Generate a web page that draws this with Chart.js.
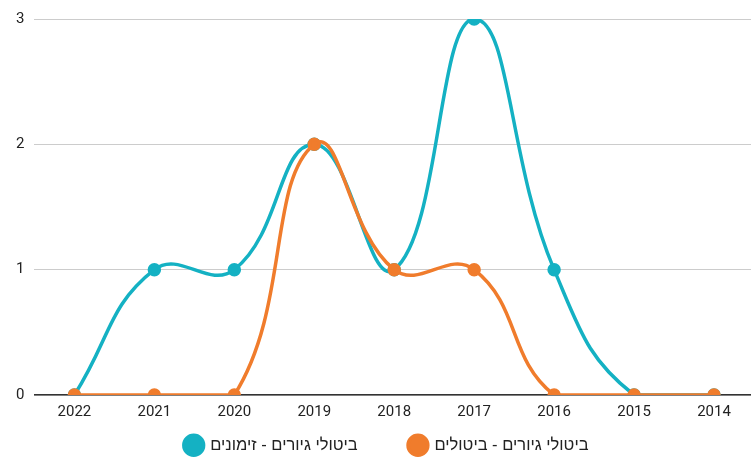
<!DOCTYPE html>
<html>
<head>
<meta charset="utf-8">
<script src="https://cdn.jsdelivr.net/npm/chart.js@4/dist/chart.umd.min.js"></script>
<style>
html,body{margin:0;padding:0;background:#fff;overflow:hidden;}
#wrap{position:relative;width:768px;height:457px;}
</style>
</head>
<body>
<div id="wrap"><canvas id="c"></canvas></div>
<script>
'use strict';
const years = ['2022','2021','2020','2019','2018','2017','2016','2015','2014'];
const cancelLabel = 'ביטולי גיורים - ביטולים';
const cancelVals = [0,0,0,2,1,1,0,0,0];
const summonLabel = 'ביטולי גיורים - זימונים';
const summonVals = [0,1,1,2,1,3,1,0,0];
const yTicks = [0,1,2,3];

const TEAL = '#14b1c3', ORANGE = '#f07c2c';
const LEG_PAD = 52;      // horizontal gap between legend items
const LEG_H = 28;        // room the legend takes under the axis
const LEG_ITEM_OFF = 8;  // item top below legend box top
const LEG_SHIFT_X = 7;

// legend: wide gap between items but short box
const legendTweak = {
    id:'legendTweak',
    afterInit(chart){
        const lg = chart.legend;
        const fit = lg.fit;
        lg.fit = function(){ fit.call(this); this.height = LEG_H; };
        const draw = lg.draw;
        lg.draw = function(){
            const s = LEG_PAD - LEG_ITEM_OFF;
            this.top -= s; this.left += LEG_SHIFT_X; this.right += LEG_SHIFT_X;
            draw.call(this);
            this.top += s; this.left -= LEG_SHIFT_X; this.right -= LEG_SHIFT_X;
        };
    }
};

new Chart(document.getElementById('c').getContext('2d'), {
    type:'line',
    data:{
        labels:years,
        datasets:[
            { label:cancelLabel, data:cancelVals, borderColor:ORANGE, backgroundColor:ORANGE, borderWidth:3.5, pointRadius:5, pointHoverRadius:5, tension:0.45 },
            { label:summonLabel, data:summonVals, borderColor:TEAL, backgroundColor:TEAL, borderWidth:3.5, pointRadius:5, pointHoverRadius:5, tension:0.45 }
        ]
    },
    options:{
        responsive:true, maintainAspectRatio:false, animation:false,
        layout:{ padding:{ top:18, left:6, right:14, bottom:0 } },
        plugins:{
            legend:{ position:'bottom', reverse:true,
                labels:{ usePointStyle:true, pointStyle:'circle', boxHeight:14, boxWidth:20, padding:LEG_PAD, color:'#222', font:{ family:"'Liberation Sans', Arial, sans-serif", size:16.5 } } },
            tooltip:{ enabled:false }
        },
        scales:{
            x:{ offset:true,
                grid:{ display:false, drawTicks:false },
                border:{ display:true, color:'#333', width:1.5 },
                ticks:{ color:'#222', font:{ family:'Roboto', size:15 }, padding:8, maxRotation:0 } },
            y:{ min:0, max:3,
                afterBuildTicks:ax => { ax.ticks = yTicks.map(v => ({ value:v })); },
                grid:{ color:'#cccccc', drawTicks:false, lineWidth:1 },
                border:{ display:false },
                ticks:{ color:'#222', font:{ family:'Roboto', size:15 }, padding:10 } }
        }
    },
    plugins:[legendTweak]
});
</script>
</body>
</html>
